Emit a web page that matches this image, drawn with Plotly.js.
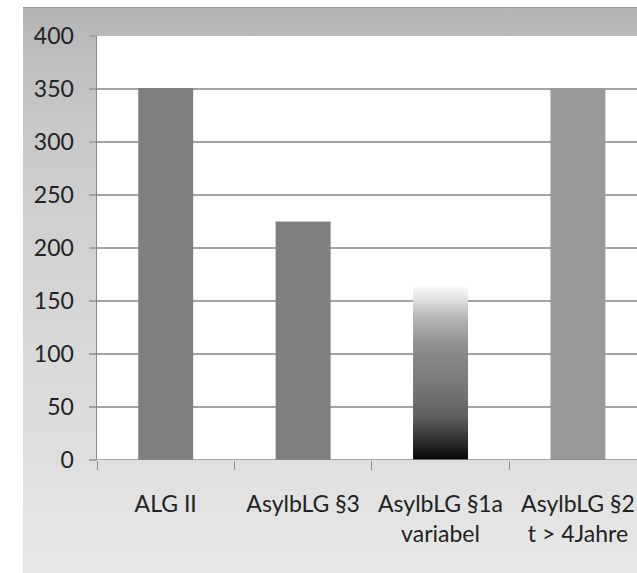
<!DOCTYPE html>
<html>
<head>
<meta charset="utf-8">
<script src="https://cdn.plot.ly/plotly-3.0.1.min.js"></script>
<style>
  html, body { margin: 0; padding: 0; background: #ffffff; }
  #wrap { position: relative; width: 637px; height: 573px; overflow: hidden; }
  #bg { position: absolute; left: 23px; top: 7px; right: 0; bottom: 0;
        border-top: 1px solid #9a9a9a;
        background: linear-gradient(to bottom, #b4b4b4 0%, #bbbbbb 6%, #c8c8c8 20%, #d5d5d5 50%, #dfdfdf 80%, #e8e8e8 100%); }
  #chart { position: absolute; left: 0; top: 0; width: 637px; height: 573px; }
</style>
</head>
<body>
<div id="wrap">
  <div id="bg"></div>
  <div id="chart"></div>
</div>
<script>
const categories = ["ALG II", "AsylbLG §3", "AsylbLG §1a<br>variabel", "AsylbLG §2<br>t > 4Jahre"];
const values = [351, 225, 163, 351];
const barColors = ["#7f7f7f", "#7f7f7f", "rgba(0,0,0,0)", "#999999"];
const yTicks = [0, 50, 100, 150, 200, 250, 300, 350, 400];
const gradientIndex = 2;

const halfWidth = 0.2;
const xRange = [-0.5, 3.43];

const barTrace = {
  type: "bar",
  x: categories,
  y: values,
  width: 0.4,
  marker: { color: barColors, line: { width: 0 } },
  hoverinfo: "none"
};

const gv = values[gradientIndex];
const gradTrace = {
  type: "scatter",
  xaxis: "x2",
  yaxis: "y",
  x: [gradientIndex - halfWidth, gradientIndex + halfWidth, gradientIndex + halfWidth, gradientIndex - halfWidth, gradientIndex - halfWidth],
  y: [0, 0, gv, gv, 0],
  mode: "lines",
  line: { width: 0, color: "rgba(0,0,0,0)" },
  fill: "toself",
  fillgradient: {
    type: "vertical",
    colorscale: [
      [0, "#050505"],
      [0.1, "#2a2a2a"],
      [0.25, "#5e5e5e"],
      [0.45, "#7a7a7a"],
      [0.65, "#8c8c8c"],
      [0.82, "#b4b4b4"],
      [0.93, "#e2e2e2"],
      [1, "#f8f8f8"]
    ]
  },
  hoverinfo: "none"
};

const fontFam = "Lato, 'Open Sans', sans-serif";

const layout = {
  width: 637,
  height: 573,
  margin: { l: 97, r: 0, t: 36, b: 113 },
  paper_bgcolor: "rgba(0,0,0,0)",
  plot_bgcolor: "#ffffff",
  showlegend: false,
  font: { family: fontFam, color: "#222222", size: 23 },
  xaxis: {
    type: "category",
    range: xRange,
    showgrid: false,
    tickson: "boundaries",
    ticks: "outside",
    ticklen: 9,
    tickcolor: "#8a8a8a",
    tickwidth: 1,
    showline: false,
    zeroline: false,
    ticklabelstandoff: 28,
    tickfont: { family: fontFam, size: 23, color: "#222222" }
  },
  xaxis2: {
    overlaying: "x",
    range: xRange,
    visible: false,
    showgrid: false,
    zeroline: false
  },
  yaxis: {
    range: [0, 400],
    tickvals: yTicks,
    ticktext: yTicks.map(String),
    showgrid: true,
    gridcolor: "#a3a3a3",
    gridwidth: 1.5,
    ticks: "outside",
    ticklen: 7,
    tickcolor: "#a3a3a3",
    tickwidth: 1.5,
    showline: true,
    linecolor: "#8a8a8a",
    linewidth: 1.5,
    zeroline: false,
    ticklabelstandoff: 10,
    tickfont: { family: fontFam, size: 23, color: "#222222" }
  },
  shapes: [
    { type: "line", xref: "paper", yref: "y", x0: 0, x1: 1, y0: 0, y1: 0,
      line: { color: "#8a8a8a", width: 1.5 } }
  ]
};

Plotly.newPlot("chart", [barTrace, gradTrace], layout, { staticPlot: true, displayModeBar: false });
</script>
</body>
</html>
